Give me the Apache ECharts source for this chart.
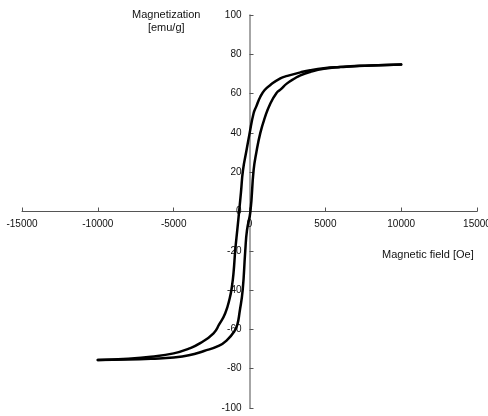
<!DOCTYPE html>
<html><head><meta charset="utf-8">
<script src="https://cdn.jsdelivr.net/npm/echarts@6/dist/echarts.min.js"></script>
<style>html,body{margin:0;padding:0;background:#fff}#c{width:488px;height:416px}</style>
</head><body><div id="c"></div>
<script>
// Descending branch (from +10000 Oe to -10000 Oe)
var descField = [10000, 8000, 6000, 4900, 4000, 3357, 2500, 2035, 1375, 1000, 714, 450, 271, 0, -200, -430, -560, -674, -800, -938, -1050, -1156, -1300, -1600, -2000, -2372, -3250, -4000, -5000, -6500, -8000, -10000];
var descMag   = [74.8, 74.3, 73.5, 72.9, 71.9, 70.8, 69.0, 67.8, 64.4, 61.8, 58.4, 53.5, 50.0, 39.5, 31, 21, 10, 0.8, -9, -19.6, -31, -38, -44, -51.8, -57.5, -62, -67, -69.8, -72.2, -73.9, -74.9, -75.6];
// Ascending branch (from -10000 Oe to +10000 Oe)
var ascField = [-10000, -8000, -6500, -5000, -4000, -3000, -2000, -1500, -1000, -800, -650, -450, -280, -165, 60, 271, 450, 714, 1000, 1375, 1800, 2035, 2478, 3000, 3357, 4000, 4900, 6000, 8000, 10000];
var ascMag   = [-75.6, -75.3, -74.9, -74.3, -73.2, -71.0, -68.3, -65.6, -61.0, -57.5, -51, -40, -20, -9.5, 0, 21, 30, 40, 47.5, 55, 60.5, 62, 65.2, 67.8, 69.3, 71.0, 72.6, 73.6, 74.3, 74.8];
var xTicks = [-15000, -10000, -5000, 0, 5000, 10000, 15000];
var yTicks = [-100, -80, -60, -40, -20, 0, 20, 40, 60, 80, 100];
var xTitle = 'Magnetic field [Oe]';
var yTitle = 'Magnetization\n[emu/g]';

function pairs(xs, ys){ return xs.map(function(x,i){return [x, ys[i]];}); }

var W = 488, H = 416, gl = 22, gr = 11, gt = 15, gb = 8;
var chart = echarts.init(document.getElementById('c'), null, {renderer:'canvas'});
var font = 'Liberation Sans, Arial, sans-serif';
chart.setOption({
  animation:false,
  backgroundColor:'#fff',
  grid:{left:gl, right:gr, top:gt, bottom:gb, containLabel:false, outerBoundsMode:'none'},
  xAxis:{type:'value', min:xTicks[0], max:xTicks[xTicks.length-1], interval:5000,
    position:'bottom', offset:-(H-gt-gb)/2,
    axisLine:{onZero:false, lineStyle:{color:'#555', width:1}},
    axisTick:{inside:true, length:4, lineStyle:{color:'#555'}},
    axisLabel:{color:'#111', fontSize:10, fontFamily:font, margin:8, showMinLabel:true, showMaxLabel:true, hideOverlap:false,
      formatter:function(v){return String(v);}},
    splitLine:{show:false}},
  yAxis:{type:'value', min:yTicks[0], max:yTicks[yTicks.length-1], interval:20,
    position:'left', offset:-(W-gl-gr)/2,
    axisLine:{onZero:false, lineStyle:{color:'#888', width:1.5}},
    axisTick:{inside:true, length:4, lineStyle:{color:'#555'}},
    axisLabel:{color:'#111', fontSize:10, fontFamily:font, margin:8, showMinLabel:true, showMaxLabel:true, hideOverlap:false,
      formatter:function(v){return String(v);}},
    splitLine:{show:false}},
  graphic:[
    {type:'text', left:132, top:8, style:{text:yTitle, font:'11px '+font, fill:'#111', align:'center', textAlign:'center', lineHeight:13}},
    {type:'text', left:382, top:249, style:{text:xTitle, font:'11px '+font, fill:'#111'}}
  ],
  series:[
    {type:'line', data:pairs(descField, descMag), showSymbol:false, smooth:0.5, lineStyle:{color:'#000', width:2.5, join:'round', cap:'round'}},
    {type:'line', data:pairs(ascField, ascMag), showSymbol:false, smooth:0.5, lineStyle:{color:'#000', width:2.5, join:'round', cap:'round'}}
  ]
});
</script></body></html>
